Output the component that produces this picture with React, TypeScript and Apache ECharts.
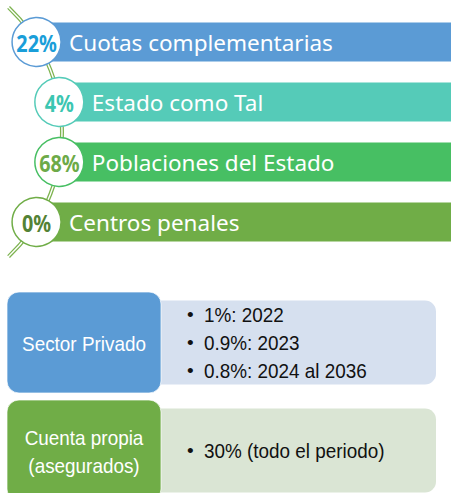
import React, { useEffect, useRef } from 'react';
import * as echarts from 'echarts';

// ---- data ----
const categories = ['Cuotas complementarias', 'Estado como Tal', 'Poblaciones del Estado', 'Centros penales'];
const shares = [22, 4, 68, 0];
const sectors = ['Sector Privado', 'Cuenta propia\n(asegurados)'];
const sectorRates = [['1%: 2022', '0.9%: 2023', '0.8%: 2024 al 2036'], ['30% (todo el periodo)']];

// ---- styles ----
const barColors = ['#5B9BD5', '#55CBB8', '#47BF63', '#70AD47'];
const pctColors = ['#1A9ED9', '#3CC6B1', '#6DAA48', '#548235'];
const headerColors = ['#5B9BD5', '#70AD47'];
const bodyColors = ['#D6E0EF', '#DAE5D4'];

// arc (layout) on which the circles sit
const ARC_CX = -110;
const ARC_CY = 132;
const ARC_R = 172;

const BOTTOM_FONT = '21px "Liberation Sans"';
const BOTTOM_SX = 0.9;

export default function App() {
  const ref = useRef<HTMLDivElement>(null);
  useEffect(() => {
    document.body.style.margin = '0';
    const chart = echarts.init(ref.current!, null, { renderer: 'svg' });
    const option: any = {
      animation: false,
      grid: [
        { left: 0, right: 0, top: 12, height: 240 },
        { left: 0, right: 0, top: 342.5, height: 108 },
      ],
      xAxis: [
        { type: 'value', min: 0, max: 100, show: false, gridIndex: 0 },
        { type: 'value', min: 0, max: 100, show: false, gridIndex: 1 },
      ],
      yAxis: [
        { type: 'category', data: categories, inverse: true, show: false, gridIndex: 0 },
        { type: 'category', data: sectors, inverse: true, show: false, gridIndex: 1, boundaryGap: false },
      ],
      graphic: [
        {
          type: 'arc',
          z: 0,
          shape: { cx: ARC_CX, cy: ARC_CY, r: ARC_R, startAngle: -0.81, endAngle: 0.81, clockwise: true },
          style: { stroke: '#7DB34F', lineWidth: 4, fill: null },
        },
        {
          type: 'arc',
          z: 0,
          shape: { cx: ARC_CX, cy: ARC_CY, r: ARC_R, startAngle: -0.82, endAngle: 0.82, clockwise: true },
          style: { stroke: '#ffffff', lineWidth: 1.4, fill: null },
        },
      ],
      series: [
        {
          type: 'custom',
          xAxisIndex: 0,
          yAxisIndex: 0,
          z: 5,
          data: shares.map((s, i) => [100, i, s]),
          renderItem: (params: any, api: any) => {
            const i = params.dataIndex;
            const [xEnd, cy] = api.coord([api.value(0), i]);
            const band = api.size([0, 1])[1];
            const barH = band * 0.65;
            const cx = ARC_CX + Math.sqrt(ARC_R * ARC_R - (cy - ARC_CY) * (cy - ARC_CY));
            const r = 24.5;
            return {
              type: 'group',
              children: [
                {
                  type: 'rect',
                  shape: { x: cx, y: cy - barH / 2, width: xEnd - cx, height: barH },
                  style: { fill: barColors[i] },
                },
                {
                  type: 'circle',
                  shape: { cx, cy, r },
                  style: { fill: '#ffffff', stroke: barColors[i], lineWidth: 1.5 },
                },
                {
                  type: 'text',
                  x: cx,
                  y: cy + 1,
                  scaleX: 0.86,
                  style: {
                    text: api.value(2) + '%',
                    fill: pctColors[i],
                    font: 'bold 23px "Noto Sans"',
                    align: 'center',
                    verticalAlign: 'middle',
                  },
                },
                {
                  type: 'text',
                  x: cx + r + 8,
                  y: cy,
                  style: {
                    text: categories[i],
                    fill: '#ffffff',
                    font: '22.5px "Noto Sans"',
                    align: 'left',
                    verticalAlign: 'middle',
                  },
                },
              ],
            };
          },
        },
        {
          type: 'custom',
          xAxisIndex: 1,
          yAxisIndex: 1,
          z: 5,
          data: sectors.map((s, i) => [100, i]),
          renderItem: (params: any, api: any) => {
            const i = params.dataIndex;
            const [xEnd, cy] = api.coord([api.value(0), i]);
            const headerX = 7;
            const headerW = 154;
            const headerH = 101;
            const bodyH = 84;
            const bodyRight = xEnd - 15;
            const lines = sectorRates[i];
            return {
              type: 'group',
              children: [
                {
                  type: 'rect',
                  shape: { x: headerX + headerW - 20, y: cy - bodyH / 2, width: bodyRight - (headerX + headerW - 20), height: bodyH, r: 11 },
                  style: { fill: bodyColors[i] },
                },
                {
                  type: 'rect',
                  shape: { x: headerX, y: cy - headerH / 2, width: headerW, height: headerH, r: 12 },
                  style: { fill: headerColors[i], stroke: 'rgba(255,255,255,0.7)', lineWidth: 1 },
                },
                {
                  type: 'text',
                  x: headerX + headerW / 2,
                  y: cy + 1,
                  scaleX: BOTTOM_SX,
                  style: {
                    text: sectors[i],
                    fill: '#ffffff',
                    font: BOTTOM_FONT,
                    lineHeight: 28,
                    align: 'center',
                    verticalAlign: 'middle',
                  },
                },
                {
                  type: 'text',
                  x: 187,
                  y: cy,
                  style: {
                    text: lines.map(() => '•').join('\n'),
                    fill: '#111111',
                    font: '19px "Liberation Sans"',
                    lineHeight: 28,
                    align: 'left',
                    verticalAlign: 'middle',
                  },
                },
                {
                  type: 'text',
                  x: 204,
                  y: cy,
                  scaleX: BOTTOM_SX,
                  style: {
                    text: lines.join('\n'),
                    fill: '#111111',
                    font: BOTTOM_FONT,
                    lineHeight: 28,
                    align: 'left',
                    verticalAlign: 'middle',
                  },
                },
              ],
            };
          },
        },
      ],
    };
    chart.setOption(option);
    return () => chart.dispose();
  }, []);
  return <div ref={ref} style={{ width: 451, height: 493 }} />;
}
